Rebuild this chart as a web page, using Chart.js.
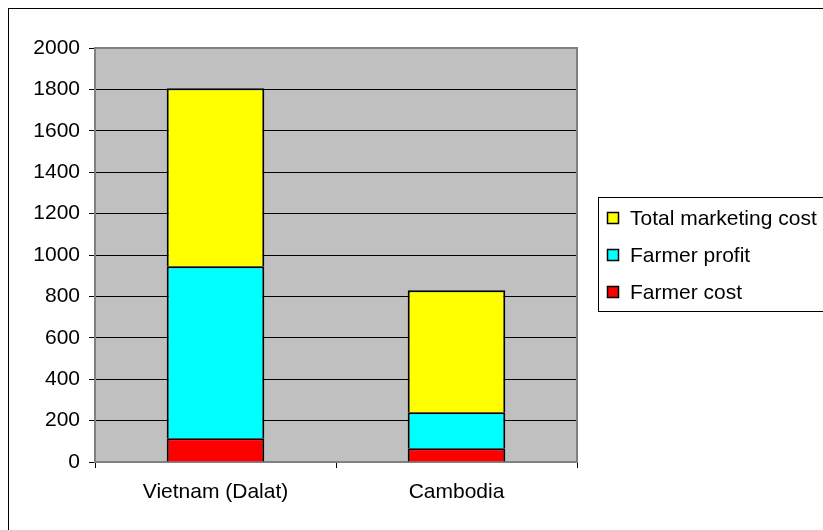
<!DOCTYPE html>
<html>
<head>
<meta charset="utf-8">
<script src="https://cdn.jsdelivr.net/npm/chart.js@4/dist/chart.umd.min.js"></script>
<style>
html,body{margin:0;padding:0;background:#fff;}
#wrap{width:823px;height:530px;position:relative;}
</style>
</head>
<body>
<div id="wrap"><canvas id="c" width="823" height="530"></canvas></div>
<script>
const categories = ["Vietnam (Dalat)", "Cambodia"];
const farmerCost = [115, 67];
const farmerProfit = [831, 173];
const totalMarketingCost = [859, 590];
const seriesLabels = ["Farmer cost", "Farmer profit", "Total marketing cost"];
const seriesColors = ["#FF0000", "#00FFFF", "#FFFF00"];
const yTicks = [0, 200, 400, 600, 800, 1000, 1200, 1400, 1600, 1800, 2000];

const FONT = "'Liberation Sans', Arial, sans-serif";

const framePlugin = {
  id: 'frame',
  beforeDraw(chart) {
    const ctx = chart.ctx, a = chart.chartArea;
    ctx.save();
    ctx.fillStyle = '#fff';
    ctx.fillRect(0, 0, chart.width, chart.height);
    ctx.strokeStyle = '#000';
    ctx.lineWidth = 1;
    ctx.strokeRect(8.5, 8.5, chart.width + 20, chart.height + 20);
    ctx.fillStyle = '#C0C0C0';
    ctx.fillRect(a.left, a.top, a.right - a.left, a.bottom - a.top);
    ctx.restore();
  },
  afterDatasetsDraw(chart) {
    const ctx = chart.ctx, a = chart.chartArea;
    ctx.save();
    ctx.strokeStyle = '#808080';
    ctx.lineWidth = 2;
    ctx.beginPath();
    ctx.moveTo(a.left, a.top);
    ctx.lineTo(a.right, a.top);
    ctx.lineTo(a.right, a.bottom);
    ctx.stroke();
    ctx.restore();
  },
  afterDraw(chart) {
    const ctx = chart.ctx;
    ctx.save();
    ctx.strokeStyle = '#000';
    ctx.lineWidth = 1;
    ctx.fillStyle = '#fff';
    ctx.fillRect(598.5, 197.5, 260, 114);
    ctx.strokeRect(598.5, 197.5, 260, 114);
    const ds = chart.data.datasets.slice().reverse();
    ctx.font = "21px " + FONT;
    ctx.textBaseline = 'middle';
    ds.forEach((d, i) => {
      const cy = 218 + i * 37;
      ctx.fillStyle = d.backgroundColor;
      ctx.fillRect(607.5, cy - 5.5, 11, 11);
      ctx.strokeStyle = '#000';
      ctx.lineWidth = 1.5;
      ctx.strokeRect(607.5, cy - 5.5, 11, 11);
      ctx.fillStyle = '#000';
      ctx.fillText(d.label, 630, cy + 1);
    });
    ctx.restore();
  }
};

const seriesData = [farmerCost, farmerProfit, totalMarketingCost];

new Chart(document.getElementById('c'), {
  type: 'bar',
  data: {
    labels: categories,
    datasets: seriesLabels.map((l, i) => ({
      label: l,
      data: seriesData[i],
      backgroundColor: seriesColors[i],
      borderColor: '#000',
      borderWidth: 2,
      borderSkipped: 'start',
      categoryPercentage: 1.0,
      barPercentage: 0.405
    }))
  },
  options: {
    responsive: false,
    animation: false,
    devicePixelRatio: 1,
    layout: { padding: { left: 0, top: 48, right: 246, bottom: 0 } },
    plugins: { legend: { display: false }, tooltip: { enabled: false } },
    scales: {
      x: {
        stacked: true,
        afterFit(s) { s.height = 68; },
        grid: { display: true, drawOnChartArea: false, drawTicks: true, tickLength: 6, color: '#000', offset: true },
        border: { display: true, color: '#808080', width: 2 },
        ticks: { color: '#000', font: { family: FONT, size: 21 }, padding: 12, maxRotation: 0 }
      },
      y: {
        stacked: true,
        min: 0, max: 2000,
        afterFit(s) { s.width = 95; },
        afterBuildTicks(s) { s.ticks = yTicks.map(v => ({ value: v })); },
        grid: {
          color: ctx => (ctx.tick && (ctx.tick.value === 0 || ctx.tick.value === 2000)) ? 'rgba(0,0,0,0)' : '#000',
          tickColor: '#000',
          tickLength: 6,
          lineWidth: 1
        },
        border: { display: true, color: '#808080', width: 2 },
        ticks: { color: '#000', font: { family: FONT, size: 21 }, padding: 9, callback: v => String(v) }
      }
    }
  },
  plugins: [framePlugin]
});
</script>
</body>
</html>
